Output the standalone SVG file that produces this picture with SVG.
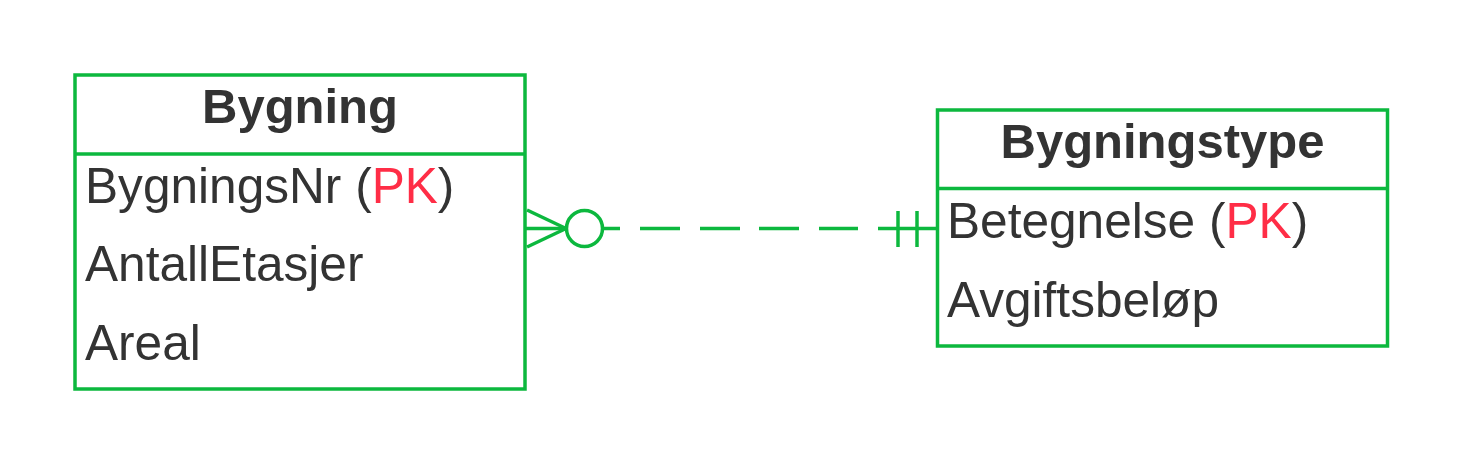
<svg xmlns="http://www.w3.org/2000/svg" width="1463" height="465" viewBox="0 0 1463 465">
<style>
.box{fill:#ffffff;stroke:#0cb83e;stroke-width:3.5}
.ln{stroke:#0cb83e;stroke-width:3.5;fill:none}
.t{font-family:"Liberation Sans",Arial,sans-serif;font-size:49.6px;fill:#333333}
.h{font-weight:bold;text-anchor:middle;font-size:49px}
.pk{fill:#ff2d46}
</style>
<rect width="1463" height="465" fill="#ffffff"/>
<g id="connectors">
<line class="ln" x1="526" y1="228.5" x2="566" y2="228.5"/>
<line class="ln" x1="527" y1="210" x2="566" y2="228.5"/>
<line class="ln" x1="527" y1="247" x2="566" y2="228.5"/>
<circle class="ln" cx="584.5" cy="228.5" r="18"/>
<path class="ln" d="M603 228.5H620M640 228.5H680M700 228.5H740M759 228.5H799M819 228.5H858M878 228.5H937"/>
<line class="ln" x1="898" y1="211" x2="898" y2="247"/>
<line class="ln" x1="917" y1="211" x2="917" y2="247"/>
</g>
<g id="bygning">
<rect class="box" x="75" y="75" width="450" height="314"/>
<line class="ln" x1="75" y1="154" x2="525" y2="154"/>
<text class="t h" x="300" y="123">Bygning</text>
<text class="t" x="85" y="203">BygningsNr (<tspan class="pk">PK</tspan>)</text>
<text class="t" x="85" y="281">AntallEtasjer</text>
<text class="t" x="85" y="360">Areal</text>
</g>
<g id="bygningstype">
<rect class="box" x="937.5" y="110" width="450" height="236"/>
<line class="ln" x1="937.5" y1="188.5" x2="1387.5" y2="188.5"/>
<text class="t h" x="1162.5" y="158">Bygningstype</text>
<text class="t" x="947" y="238">Betegnelse (<tspan class="pk">PK</tspan>)</text>
<text class="t" x="947" y="317">Avgiftsbeløp</text>
</g>
</svg>
